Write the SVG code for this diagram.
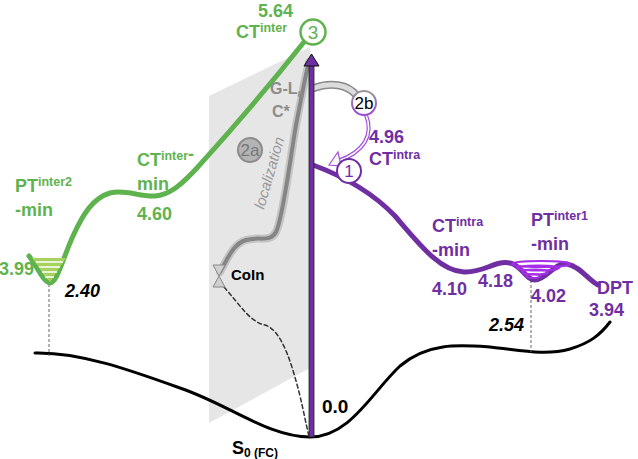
<svg xmlns="http://www.w3.org/2000/svg" width="638" height="459" viewBox="0 0 638 459">
<style>
text{font-family:"Liberation Sans",Arial,sans-serif;font-weight:bold}
.g{fill:#5fb34f}
.p{fill:#6f2fa3}
.k{fill:#000}
.gr{fill:#8c8c8c}
.sup{font-size:12.5px}
.lbl{font-size:18px}
.curve{fill:none;stroke-linecap:round}
.num{font-weight:normal;text-anchor:middle}
</style>
<defs>
<linearGradient id="g2b" x1="0" y1="0" x2="0" y2="1">
<stop offset="0" stop-color="#999"/>
<stop offset="1" stop-color="#9a48d8"/>
</linearGradient>
</defs>
<rect width="638" height="459" fill="#fff"/>
<!-- grey plane -->
<polygon id="plane" points="209,96 310,47 310,368 209,423" fill="#e6e6e6"/>
<g id="connectors">
<!-- S0 ground state curve -->
<path class="curve" d="M35,353 C80,352 130,370 180,388 C230,405 268,437 310,437 C350,437 372,392 400,366 C428,342 460,345 490,347 C520,350 545,356 570,349 C590,343 600,335 610,322" stroke="#000" stroke-width="3"/>
<!-- dashed drop lines -->
<line x1="49" y1="284" x2="49" y2="356" stroke="#666" stroke-width="1" stroke-dasharray="3,2"/>
<line x1="531" y1="280" x2="531" y2="352" stroke="#666" stroke-width="1" stroke-dasharray="3,2"/>
<!-- dashed CoIn to S0 -->
<path class="curve" d="M224,287 C240,305 250,322 265,325 C282,330 292,365 299,392 C304,412 306,425 309,436" stroke="#333" stroke-width="1.5" stroke-dasharray="4,3"/>
<!-- green inter CT path -->
<path class="curve" d="M29,256 C38,268 44,283 50,283 C57,283 63,258 73,236 C83,214 93,198 110,193 C125,189 140,197 155,196 C170,195 182,184 196,169 C215,148 262,95 304,42" stroke="#5fb34f" stroke-width="5"/>
<!-- purple intra CT path -->
<path class="curve" d="M313,165 C340,175 370,190 395,216 C420,245 440,271 464,272 C484,273 495,260 510,263 C521,265 526,280 535,280 C546,280 555,262 567,264 C580,266 588,280 598,285" stroke="#6f2fa3" stroke-width="5"/>
<!-- grey localization path -->
<path class="curve" d="M220,272 C228,258 233,244 246,240 C259,236 270,243 276,232 C283,218 290,160 296,125 C302,95 306,72 309,62" stroke="#c4c4c4" stroke-width="8"/>
<path class="curve" d="M220,272 C228,258 233,244 246,240 C259,236 270,243 276,232 C283,218 290,160 296,125 C302,95 306,72 309,62" stroke="#858585" stroke-width="4"/>
<!-- 2b grey arc -->
<path class="curve" d="M314,88 C330,82 348,84 357,96" stroke="#8a8a8a" stroke-width="8"/>
<path class="curve" d="M314,88 C330,82 348,84 357,96" stroke="#dcdcdc" stroke-width="5"/>
<!-- 2b to 1 hollow purple arrow -->
<path class="curve" d="M366,115 C374,135 364,152 338,161" stroke="#a24fe0" stroke-width="4"/>
<path class="curve" d="M366,115 C374,135 364,152 338,161" stroke="#fff" stroke-width="1.6"/>
<polygon points="329,165 338,152 341,166" fill="#fff" stroke="#a24fe0" stroke-width="1.2"/>
<!-- vertical purple excitation arrow -->
<rect x="309" y="62" width="5" height="375" fill="#6f2fa3" stroke="#222" stroke-width="0.8"/>
<polygon points="304,66 311.5,54 319,66" fill="#6f2fa3" stroke="#111" stroke-width="1"/>
</g>
<!-- funnels -->
<g id="funnel-pt-inter2">
<polygon points="32,258 66,258 50,282" fill="#a7d15d"/>
<g stroke="#fff" stroke-width="1.5">
<line x1="36" y1="262" x2="63" y2="262"/>
<line x1="39" y1="267" x2="60" y2="267"/>
<line x1="42" y1="272" x2="57" y2="272"/>
<line x1="45" y1="277" x2="54" y2="277"/>
</g>
</g>
<g id="funnel-pt-inter1" fill="none" stroke="#a52fe8" stroke-width="2">
<ellipse cx="541" cy="264" rx="29" ry="3"/>
<ellipse cx="538" cy="268" rx="21" ry="2.5"/>
<ellipse cx="535" cy="272" rx="13" ry="2.5"/>
<ellipse cx="533" cy="276" rx="7" ry="2"/>
</g>
<!-- nodes -->
<g id="node-3">
<circle cx="313" cy="32" r="12.5" fill="#fff" stroke="#5fb34f" stroke-width="2.5"/>
<text x="313" y="39" class="g num" style="font-size:19px">3</text>
</g>
<g id="node-1">
<circle cx="349" cy="171" r="12" fill="#fff" stroke="#6f2fa3" stroke-width="2"/>
<text x="349" y="177" class="p num" style="font-size:17px">1</text>
</g>
<g id="node-2b">
<circle cx="364" cy="103" r="12" fill="#fff" stroke="url(#g2b)" stroke-width="2"/>
<text x="364" y="109" class="k num" style="font-size:17px">2b</text>
</g>
<g id="node-2a">
<circle cx="250" cy="150" r="12" fill="#b4b4b4" stroke="#8c8c8c" stroke-width="2"/>
<text x="250" y="156" fill="#777" class="num" style="font-size:17px">2a</text>
</g>
<g id="node-coin">
<polygon points="213,265 225,265 219,276" fill="#d0d0d0" stroke="#888" stroke-width="1"/>
<polygon points="213,287 225,287 219,276" fill="#d0d0d0" stroke="#888" stroke-width="1"/>
<text x="231" y="280" class="k" style="font-size:15px">CoIn</text>
</g>
<!-- labels -->
<g id="label-s0">
<text x="232" y="454" class="k" style="font-size:18px">S<tspan style="font-size:12px" dy="3">0 (FC)</tspan></text>
<text x="322" y="413" class="k" style="font-size:19px">0.0</text>
</g>
<g id="label-ct-inter">
<text x="258" y="17" class="g lbl">5.64</text>
<text x="236" y="38" class="g lbl">CT<tspan class="sup" dy="-6">inter</tspan></text>
</g>
<g id="label-ct-inter-min">
<text x="137" y="166" class="g lbl">CT<tspan class="sup" dy="-6">inter</tspan><tspan>-</tspan></text>
<text x="137" y="190" class="g lbl">min</text>
<text x="137" y="220" class="g lbl">4.60</text>
</g>
<g id="label-pt-inter2">
<text x="15" y="192" class="g lbl">PT<tspan class="sup" dy="-6">inter2</tspan></text>
<text x="15" y="216" class="g lbl">-min</text>
<text x="-1" y="275" class="g lbl">3.99</text>
<text x="65" y="297" class="k" style="font-size:18px;font-style:italic">2.40</text>
</g>
<g id="label-ga">
<text x="270" y="94" class="gr" style="font-size:16px">G-L<tspan style="font-size:11px" dy="3">a</tspan></text>
<text x="272" y="117" class="gr" style="font-size:16px">C*</text>
<text x="0" y="0" transform="translate(264,210) rotate(-74)" fill="#999" style="font-weight:normal;font-style:italic;font-size:15px">localization</text>
</g>
<g id="label-ct-intra">
<text x="369" y="143" class="p lbl">4.96</text>
<text x="369" y="165" class="p lbl">CT<tspan class="sup" dy="-6">intra</tspan></text>
</g>
<g id="label-ct-intra-min">
<text x="432" y="232" class="p lbl">CT<tspan class="sup" dy="-6">intra</tspan></text>
<text x="432" y="256" class="p lbl">-min</text>
<text x="432" y="295" class="p lbl">4.10</text>
<text x="478" y="287" class="p lbl">4.18</text>
</g>
<g id="label-pt-inter1">
<text x="531" y="226" class="p lbl">PT<tspan class="sup" dy="-6">inter1</tspan></text>
<text x="531" y="250" class="p lbl">-min</text>
<text x="531" y="302" class="p lbl">4.02</text>
<text x="489" y="331" class="k" style="font-size:18px;font-style:italic">2.54</text>
</g>
<g id="label-dpt">
<text x="597" y="294" class="p lbl">DPT</text>
<text x="589" y="316" class="p lbl">3.94</text>
</g>
</svg>
